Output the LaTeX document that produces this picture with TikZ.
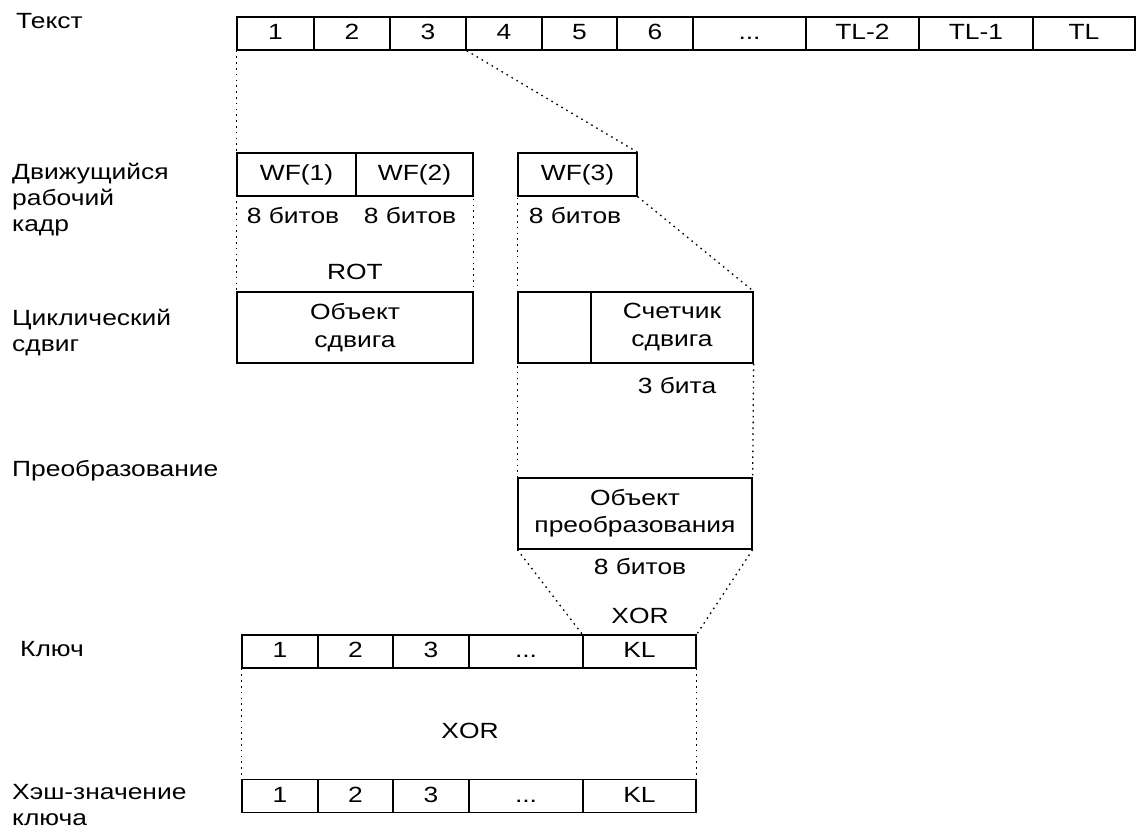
\documentclass[tikz,border=0pt]{standalone}
\usepackage{fontspec}
\setmainfont{Liberation Sans}[FakeStretch=1.2]
\newcommand\celldots{...}
\begin{document}
\begin{tikzpicture}[x=1pt,y=-1pt,
  every node/.style={font=\fontsize{22}{26}\selectfont, inner sep=0pt},
  cell/.style={draw, line width=1.3pt, minimum height=33pt},
  one/.style={text height=16pt, text depth=4pt},
  dotline/.style={line width=1.3pt, dash pattern=on 1.6pt off 4.2pt},
  lbl/.style={anchor=base west},
  txt/.style={align=center}]
\useasboundingbox[fill=white] (0,0) rectangle (1136,832);
% Text row
\foreach \n/\a/\b/\t in {t1/237/314/1, t2/314/390/2, t3/390/466/3, t4/466/542/4, t5/542/617/5, t6/617/693/6, t7/693/806/\celldots, t8/806/919/TL-2, t9/919/1033/TL-1, t10/1033/1135/TL}{
  \pgfmathsetmacro{\w}{\b-\a}
  \pgfmathsetmacro{\c}{(\a+\b)/2}
  \node[cell, one, minimum width=\w pt] (\n) at (\c,33.5) {\t};
}
% Working frame
\node[cell, one, minimum width=119pt, minimum height=43pt] (wf1) at (296.5,174.5) {WF(1)};
\node[cell, one, minimum width=117pt, minimum height=43pt] (wf2) at (414.5,174.5) {WF(2)};
\node[cell, one, minimum width=119pt, minimum height=43pt] (wf3) at (577.5,174.5) {WF(3)};
\node[one] (b1) at (293,217) {8 битов};
\node[one] (b2) at (410,217) {8 битов};
\node[one] (b3) at (575,217) {8 битов};
\node[one] (rot) at (355,273) {ROT};
% Rotation
\node[cell, minimum width=236pt, minimum height=71pt, txt] (sh) at (355,327.5) {Объект\\[2pt]сдвига};
\node[cell, minimum width=73pt, minimum height=71pt] (cnta) at (554.5,327.5) {};
\node[cell, minimum width=162pt, minimum height=71pt, txt] (cnt) at (672,327.5) {Счетчик\\[2pt]сдвига};
\node[one] (b4) at (677,387) {3 бита};
% Transformation
\node[cell, minimum width=234pt, minimum height=71pt, txt] (tr) at (635,513.5) {Объект\\[1pt]преобразования};
\node[one] (b5) at (640,568) {8 битов};
\node[one] (x1) at (640,617) {XOR};
% Key row
\foreach \n/\a/\b/\t in {k1/242/318/1, k2/318/393/2, k3/393/469/3, k4/469/583/\celldots, k5/583/696/KL}{
  \pgfmathsetmacro{\w}{\b-\a}
  \pgfmathsetmacro{\c}{(\a+\b)/2}
  \node[cell, one, minimum width=\w pt] (\n) at (\c,651.5) {\t};
}
\node[one] (x2) at (470,732) {XOR};
% Hash row
\foreach \n/\a/\b/\t in {h1/242/318/1, h2/318/393/2, h3/393/469/3, h4/469/583/\celldots, h5/583/696/KL}{
  \pgfmathsetmacro{\w}{\b-\a}
  \pgfmathsetmacro{\c}{(\a+\b)/2}
  \node[cell, one, minimum width=\w pt] (\n) at (\c,796) {\t};
}
% Left labels
\node[lbl] (l1) at (16,29) {Текст};
\node[lbl] (l2a) at (12,180) {Движущийся};
\node[lbl] (l2b) at (12,206) {рабочий};
\node[lbl] (l2c) at (12,232) {кадр};
\node[lbl] (l3a) at (12,325) {Циклический};
\node[lbl] (l3b) at (12,351) {сдвиг};
\node[lbl] (l4) at (12,476) {Преобразование};
\node[lbl] (l5) at (20,656) {Ключ};
\node[lbl] (l6a) at (12,799) {Хэш-значение};
\node[lbl] (l6b) at (12,825) {ключа};
% Dotted connectors
\draw[dotline] (t1.south west) -- (sh.north west);
\draw[dotline] (wf2.north east) -- (sh.south east);
\draw[dotline] (t3.south east) -- (wf3.north east);
\draw[dotline] (wf3.west) -- (tr.north west);
\draw[dotline] (wf3.south east) -- (cnt.north east);
\draw[dotline] (cnt.south east) -- (tr.north east);
\draw[dotline] (tr.south west) -- (k5.north west);
\draw[dotline] (tr.south east) -- (k5.north east);
\draw[dotline] (k1.south west) -- (h1.north west);
\coordinate (hend) at ([yshift=4pt]h5.east);
\draw[dotline] (k5.south east) -- (hend);
\end{tikzpicture}
\end{document}
